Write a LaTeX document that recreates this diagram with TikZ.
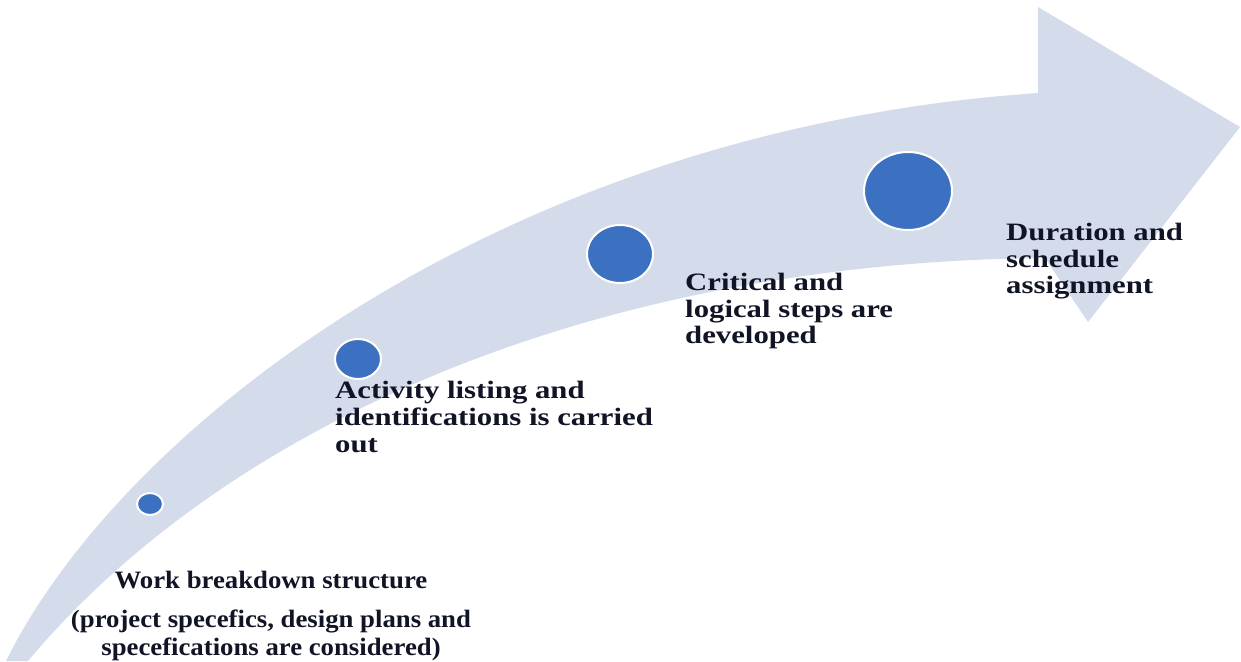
\documentclass[tikz,border=0pt]{standalone}
\usepackage{fontspec}
\setmainfont{Liberation Serif}
\newfontfamily\wideserif{Liberation Serif}[FakeStretch=1.23]
\newfontfamily\midserif{Liberation Serif}[FakeStretch=1.07]
\definecolor{bandc}{RGB}{212,219,235}
\definecolor{ballc}{RGB}{60,112,192}
\definecolor{txtc}{RGB}{16,20,36}
\tikzset{
  band/.style={fill=bandc},
  ball/.style={ellipse, fill=ballc, draw=white, line width=2pt, inner sep=0pt},
  uplabel/.style={anchor=base west, inner sep=0pt, text=txtc, font=\wideserif\bfseries\fontsize{25}{27}\selectfont},
  lowlabel/.style={anchor=base, inner sep=0pt, text=txtc, font=\midserif\bfseries\fontsize{25}{27}\selectfont}
}
\usetikzlibrary{shapes.geometric}
\begin{document}
\begin{tikzpicture}[x=1pt,y=-1pt]
\useasboundingbox (0,0) rectangle (1241,661);
\fill[white] (0,0) rectangle (1241,661);
% curved arrow
\fill[band] (6,661) .. controls (120,430) and (500,130) .. (1038,93)
  -- (1038,7) -- (1240,127) -- (1088,322) -- (1045,258)
  .. controls (600,262) and (230,420) .. (28,661) -- cycle;
% balls
\node[ball, minimum width=26pt, minimum height=22pt] (b1) at (150,504) {};
\node[ball, minimum width=46pt, minimum height=40pt] (b2) at (358,359) {};
\node[ball, minimum width=66pt, minimum height=58pt] (b3) at (620,254) {};
\node[ball, minimum width=88pt, minimum height=78pt] (b4) at (908,191) {};
% labels
\node[lowlabel] (w1) at (271,588) {Work breakdown structure};
\node[lowlabel] (w2) at (271,627) {(project specefics, design plans and};
\node[lowlabel] (w3) at (271,655) {specefications are considered)};
\node[uplabel] (a1) at (335,398) {Activity listing and};
\node[uplabel] (a2) at (335,425) {identifications is carried};
\node[uplabel] (a3) at (335,452) {out};
\node[uplabel] (c1) at (685,290) {Critical and};
\node[uplabel] (c2) at (685,317) {logical steps are};
\node[uplabel] (c3) at (685,343) {developed};
\node[uplabel] (d1) at (1006,240) {Duration and};
\node[uplabel] (d2) at (1006,267) {schedule};
\node[uplabel] (d3) at (1006,293) {assignment};
\end{tikzpicture}
\end{document}
